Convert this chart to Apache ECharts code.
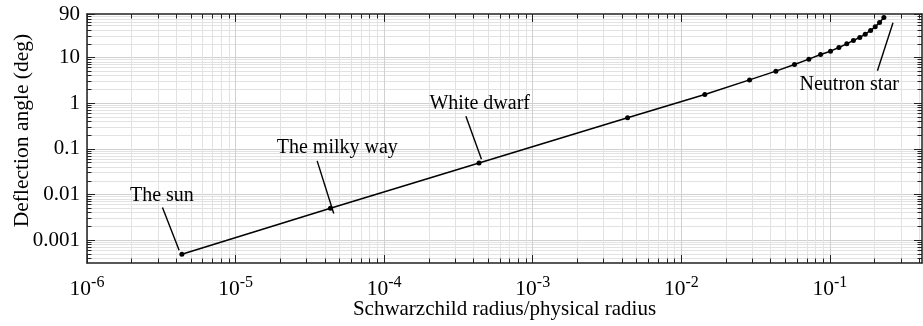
<!DOCTYPE html>
<html><head><meta charset="utf-8">
<script src="https://cdn.jsdelivr.net/npm/echarts@6/dist/echarts.min.js"></script>
<style>html,body{margin:0;padding:0;background:#fff}#c{width:923px;height:326px}</style>
</head><body><div id="c"></div>
<script>
// ---- data ----
const xValues = [4.35e-6, 4.35e-5, 4.35e-4, 4.35e-3, 0.0144, 0.0288, 0.0433, 0.0578, 0.0722, 0.0866, 0.101, 0.115, 0.130, 0.144, 0.159, 0.173, 0.188, 0.202, 0.216, 0.231];
const yValues = [0.00049, 0.0050, 0.049, 0.48, 1.55, 3.24, 5.04, 7.06, 9.23, 11.7, 13.8, 16.6, 20.0, 23.7, 27.6, 32.6, 39.3, 47.1, 58.9, 75.7];
const xMajorTicks = [1e-6, 1e-5, 1e-4, 1e-3, 1e-2, 1e-1];
const xTickExponents = ['-6', '-5', '-4', '-3', '-2', '-1'];
const yMajorTicks = [0.001, 0.01, 0.1, 1, 10, 90];
const yTickLabels = ['0.001', '0.01', '0.1', '1', '10', '90'];
const annotationTexts = ['The sun', 'The milky way', 'White dwarf', 'Neutron star'];
const annotationTextPos = [[3.19e-6, 0.00955], [4.84e-5, 0.1035], [4.4e-4, 0.99], [0.135, 2.49]];
const annotationLineStart = [[3.22e-6, 0.00519], [3.54e-5, 0.0546], [3.55e-4, 0.521], [0.209, 5.13]];
const annotationLineEnd = [[4.17e-6, 6.0e-4], [4.58e-5, 0.00383], [4.52e-4, 0.0594], [0.266, 58]];
const X_MIN = 1e-6, X_MAX = 0.417, Y_MIN = 3.162e-4, Y_MAX = 90;
const xTitle = 'Schwarzchild radius/physical radius';
const yTitle = 'Deflection angle (deg)';

// minor tick positions (2..9 per decade)
function minorTicks(lo, hi) {
  const out = [];
  for (let e = Math.floor(Math.log10(lo)) - 1; e <= Math.ceil(Math.log10(hi)); e++) {
    for (let m = 2; m <= 9; m++) {
      const v = m * Math.pow(10, e);
      if (v > lo * 1.0001 && v < hi * 0.9999) out.push(v);
    }
  }
  return out;
}
const xMinorTicks = minorTicks(X_MIN, X_MAX);
const yMinorTicks = minorTicks(Y_MIN, Y_MAX);
const yGridMajor = yMajorTicks.slice(0, 5);

const F = '"Liberation Serif", "Times New Roman", serif';
const AX = '#222';

function axisDef(kind, pos, ticks, len, opts) {
  const base = {
    type: 'log', position: pos, gridIndex: 0,
    min: kind === 'x' ? X_MIN : Y_MIN, max: kind === 'x' ? X_MAX : Y_MAX,
    axisLine: { show: false },
    axisTick: { show: true, inside: true, length: len, customValues: ticks, lineStyle: { color: AX, width: 1 } },
    axisLabel: { show: false },
    splitLine: { show: false }, minorTick: { show: false }, z: 10
  };
  return Object.assign(base, opts || {});
}
function gridAxis(kind, pos, ticks, color) {
  return axisDef(kind, pos, ticks, 1, {
    z: 0,
    axisTick: { show: false, customValues: ticks },
    splitLine: { show: true, lineStyle: { color: color, width: 1 } }
  });
}

const chart = echarts.init(document.getElementById('c'), null, { renderer: 'canvas' });
const option = {
  animation: false,
  backgroundColor: '#fff',
  grid: { left: 87, right: 1, top: 14, bottom: 63, containLabel: false, outerBoundsMode: 'none' },
  xAxis: [
    axisDef('x', 'bottom', xMajorTicks, 8, {
      axisLine: { show: true, onZero: false, lineStyle: { color: AX, width: 1.5 } },
      axisLabel: {
        show: true, customValues: xMajorTicks, margin: 12,
        formatter: (v) => {
          const i = xMajorTicks.findIndex(t => Math.abs(Math.log10(t) - Math.log10(v)) < 1e-6);
          return '{b|10}{s|' + (i >= 0 ? xTickExponents[i] : '') + '}';
        },
        rich: {
          b: { fontSize: 21.5, fontFamily: F, color: '#000' },
          s: { fontSize: 16, fontFamily: F, color: '#000', padding: [0, 0, 13, 0] }
        }
      },
      name: xTitle, nameLocation: 'middle', nameGap: 36, nameMoveOverlap: false,
      nameTextStyle: { fontSize: 21, fontFamily: F, color: '#000' }
    }),
    axisDef('x', 'bottom', xMinorTicks, 4.5),
    axisDef('x', 'top', xMajorTicks, 8, { axisLine: { show: true, onZero: false, lineStyle: { color: AX, width: 1.5 } } }),
    axisDef('x', 'top', xMinorTicks, 4.5),
    gridAxis('x', 'bottom', xMajorTicks, '#d0d0d0'),
    gridAxis('x', 'bottom', xMinorTicks, '#e2e2e2')
  ],
  yAxis: [
    axisDef('y', 'left', yMajorTicks, 8, {
      axisLine: { show: true, onZero: false, lineStyle: { color: AX, width: 1.5 } },
      axisLabel: {
        show: true, customValues: yMajorTicks, margin: 7,
        fontSize: 21, fontFamily: F, color: '#000',
        formatter: (v) => {
          const i = yMajorTicks.findIndex(t => Math.abs(Math.log10(t) - Math.log10(v)) < 1e-6);
          return i >= 0 ? yTickLabels[i] : '';
        }
      },
      name: yTitle, nameLocation: 'middle', nameGap: 54, nameMoveOverlap: false,
      nameTextStyle: { fontSize: 21.5, fontFamily: F, color: '#000', padding: [0, 0, 0, 16] }
    }),
    axisDef('y', 'left', yMinorTicks, 4.5),
    axisDef('y', 'right', yMajorTicks, 8, { axisLine: { show: true, onZero: false, lineStyle: { color: AX, width: 1.5 } } }),
    axisDef('y', 'right', yMinorTicks, 4.5),
    gridAxis('y', 'left', yGridMajor, '#d0d0d0'),
    gridAxis('y', 'left', yMinorTicks, '#e2e2e2')
  ],
  series: [
    {
      type: 'line', xAxisIndex: 0, yAxisIndex: 0, z: 5,
      data: xValues.map((x, i) => [x, yValues[i]]),
      symbol: 'circle', symbolSize: 5, showSymbol: true,
      lineStyle: { color: '#000', width: 1.5 },
      itemStyle: { color: '#000' },
      silent: true, clip: false
    },
    {
      type: 'custom', xAxisIndex: 0, yAxisIndex: 0, z: 6, silent: true, clip: false,
      data: annotationTexts.map((t, i) => [annotationTextPos[i][0], annotationTextPos[i][1], i]),
      renderItem: (params, api) => {
        const i = params.dataIndex;
        const t = api.coord(annotationTextPos[i]);
        const p1 = api.coord(annotationLineStart[i]);
        const p2 = api.coord(annotationLineEnd[i]);
        return {
          type: 'group', children: [
            { type: 'line', shape: { x1: p1[0], y1: p1[1], x2: p2[0], y2: p2[1] }, style: { stroke: '#000', lineWidth: 1.4 } },
            { type: 'text', x: t[0], y: t[1], style: { text: annotationTexts[i], fill: '#000', fontSize: 20, fontFamily: F, align: 'center', verticalAlign: 'middle' } }
          ]
        };
      }
    }
  ]
};
chart.setOption(option);
</script></body></html>
